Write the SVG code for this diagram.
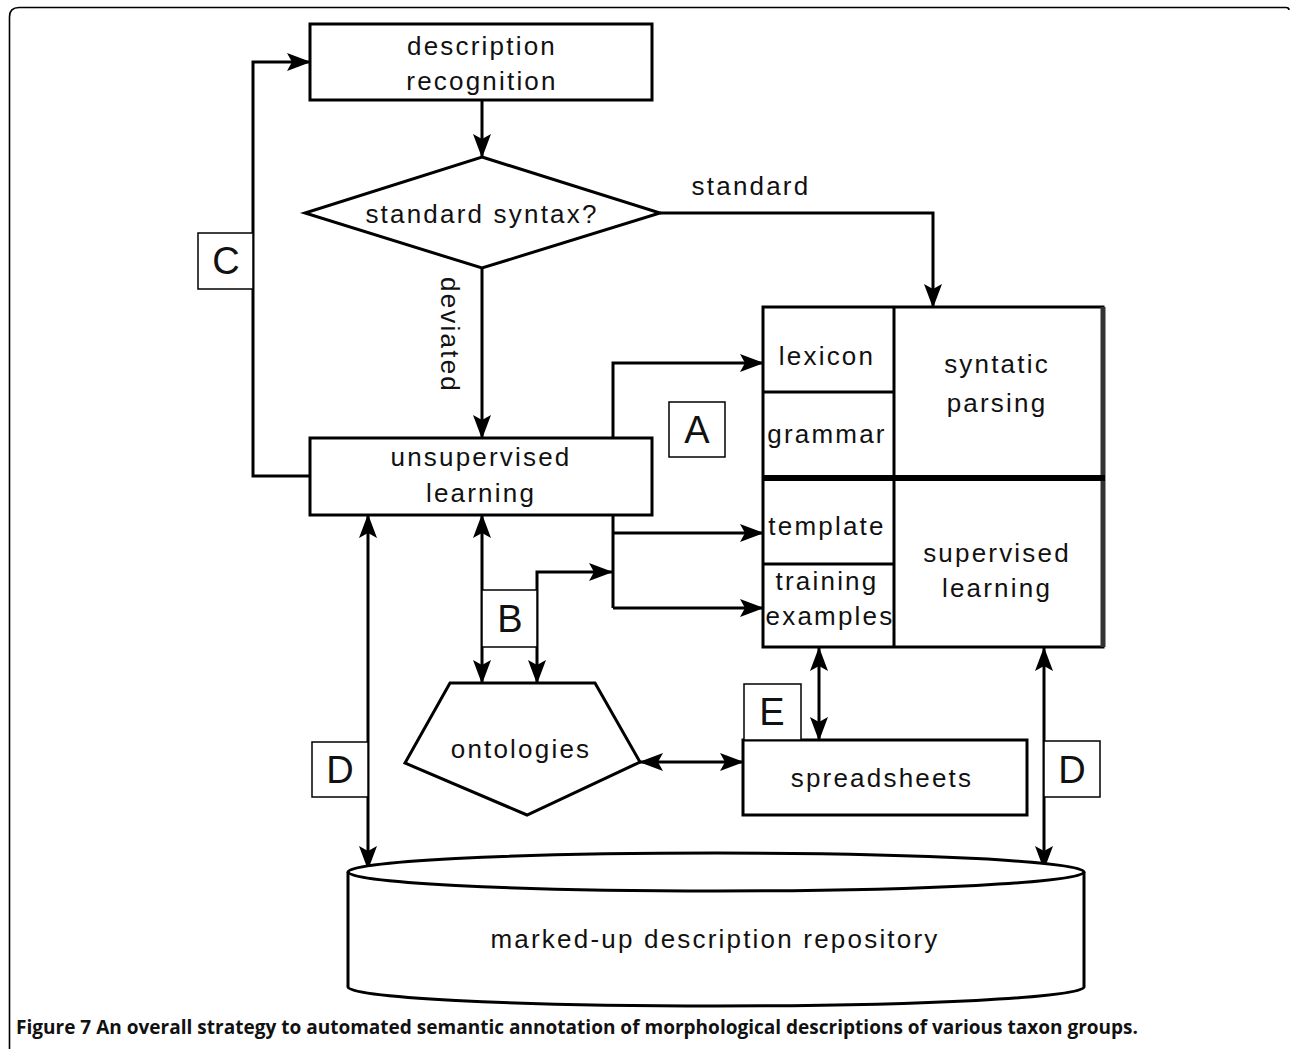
<svg xmlns="http://www.w3.org/2000/svg" width="1290" height="1049" viewBox="0 0 1290 1049">
<defs>
<marker id="ah" markerUnits="userSpaceOnUse" markerWidth="26" markerHeight="20" refX="23" refY="9" orient="auto-start-reverse" viewBox="0 0 26 20">
<path d="M0,0 L24,9 L0,18 L5,9 z" fill="#000"/>
</marker>
<style>
.box{fill:#fff;stroke:#000;stroke-width:3}
.lbl{fill:#fff;stroke:#000;stroke-width:1.5}
.t{font-family:"Liberation Sans",Arial,sans-serif;font-size:26px;letter-spacing:2.2px;fill:#111;text-anchor:middle}
.L{font-family:"Liberation Sans",Arial,sans-serif;font-size:38px;fill:#111;text-anchor:middle}
.c{fill:none;stroke:#000;stroke-width:3}
.ca{fill:none;stroke:#000;stroke-width:3;marker-end:url(#ah)}
.cb{fill:none;stroke:#000;stroke-width:3;marker-end:url(#ah);marker-start:url(#ah)}
</style>
</defs>
<rect width="1290" height="1049" fill="#fff"/>
<path d="M9.5,1049 V17 Q9.5,7.5 19,7.5 H1286 Q1289,7.5 1289,10" fill="none" stroke="#000" stroke-width="1.6"/>

<g id="connectors">
<path class="ca" d="M482,100 V157"/>
<path class="ca" d="M660,213 H933 V307"/>
<path class="ca" d="M482,268 V438"/>
<path class="ca" d="M310,476 H253 V62 H310"/>
<path class="ca" d="M613,438 V363 H763"/>
<path class="c" d="M613,515 V608"/>
<path class="ca" d="M613,533 H763"/>
<path class="ca" d="M613,608 H763"/>
<path class="cb" d="M482,515 V683"/>
<path class="cb" d="M537,683 V572 H612"/>
<path class="cb" d="M368,515 V869"/>
<path class="cb" d="M1044,648 V869"/>
<path class="cb" d="M819,648 V740"/>
<path class="cb" d="M640,762 H743"/>
</g>

<g id="description-recognition">
<rect class="box" x="310" y="24" width="342" height="76"/>
<text class="t" x="482" y="55">description</text>
<text class="t" x="482" y="90">recognition</text>
</g>

<g id="standard-syntax">
<polygon class="box" points="482,157 660,213 482,268 305,213"/>
<text class="t" x="482" y="223">standard syntax?</text>
</g>

<g id="label-standard">
<text class="t" x="751" y="195">standard</text>
</g>
<g id="label-deviated">
<text class="t" transform="translate(441,335) rotate(90)" x="0" y="0">deviated</text>
</g>

<g id="unsupervised-learning">
<rect class="box" x="310" y="438" width="342" height="77"/>
<text class="t" x="481" y="466">unsupervised</text>
<text class="t" x="481" y="502">learning</text>
</g>

<g id="methods">
<rect class="box" x="763" y="307" width="340" height="340"/>
<line x1="1103" y1="307" x2="1103" y2="647" stroke="#333" stroke-width="5"/>
<line x1="894" y1="307" x2="894" y2="647" stroke="#000" stroke-width="3"/>
<line x1="763" y1="478" x2="1105" y2="478" stroke="#000" stroke-width="6"/>
<line x1="763" y1="392" x2="894" y2="392" stroke="#000" stroke-width="3"/>
<line x1="763" y1="564" x2="894" y2="564" stroke="#000" stroke-width="3"/>
<text class="t" x="827" y="365">lexicon</text>
<text class="t" x="827" y="443">grammar</text>
<text class="t" x="827" y="535">template</text>
<text class="t" x="827" y="590">training</text>
<text class="t" x="830" y="625">examples</text>
<text class="t" x="997" y="373">syntatic</text>
<text class="t" x="997" y="412">parsing</text>
<text class="t" x="997" y="562">supervised</text>
<text class="t" x="997" y="597">learning</text>
</g>

<g id="ontologies">
<polygon class="box" points="450,683 595,683 640,762 527,815 405,763"/>
<text class="t" x="521" y="758">ontologies</text>
</g>

<g id="spreadsheets">
<rect class="box" x="743" y="740" width="284" height="75"/>
<text class="t" x="882" y="787">spreadsheets</text>
</g>

<g id="repository">
<path class="box" d="M348,872 A368,19 0 0 1 1084,872 V987 A368,19 0 0 1 348,987 Z"/>
<path fill="none" stroke="#000" stroke-width="3" d="M348,872 A368,19 0 0 0 1084,872"/>
<text class="t" x="715" y="948">marked-up description repository</text>
</g>

<g id="label-A"><rect class="lbl" x="669" y="402" width="56" height="55"/><text class="L" x="697" y="443">A</text></g>
<g id="label-B"><rect class="lbl" x="482" y="590" width="55" height="57"/><text class="L" x="510" y="632">B</text></g>
<g id="label-C"><rect class="lbl" x="198" y="233" width="55" height="56"/><text class="L" x="226" y="274">C</text></g>
<g id="label-D1"><rect class="lbl" x="312" y="742" width="56" height="55"/><text class="L" x="340" y="783">D</text></g>
<g id="label-D2"><rect class="lbl" x="1044" y="741" width="56" height="56"/><text class="L" x="1072" y="783">D</text></g>
<g id="label-E"><rect class="lbl" x="744" y="684" width="57" height="56"/><text class="L" x="772" y="725">E</text></g>

<text x="16" y="1034" font-family="'Open Sans','Liberation Sans',sans-serif" font-weight="bold" font-size="20" fill="#111" textLength="1122" lengthAdjust="spacingAndGlyphs">Figure 7 An overall strategy to automated semantic annotation of morphological descriptions of various taxon groups.</text>
</svg>
